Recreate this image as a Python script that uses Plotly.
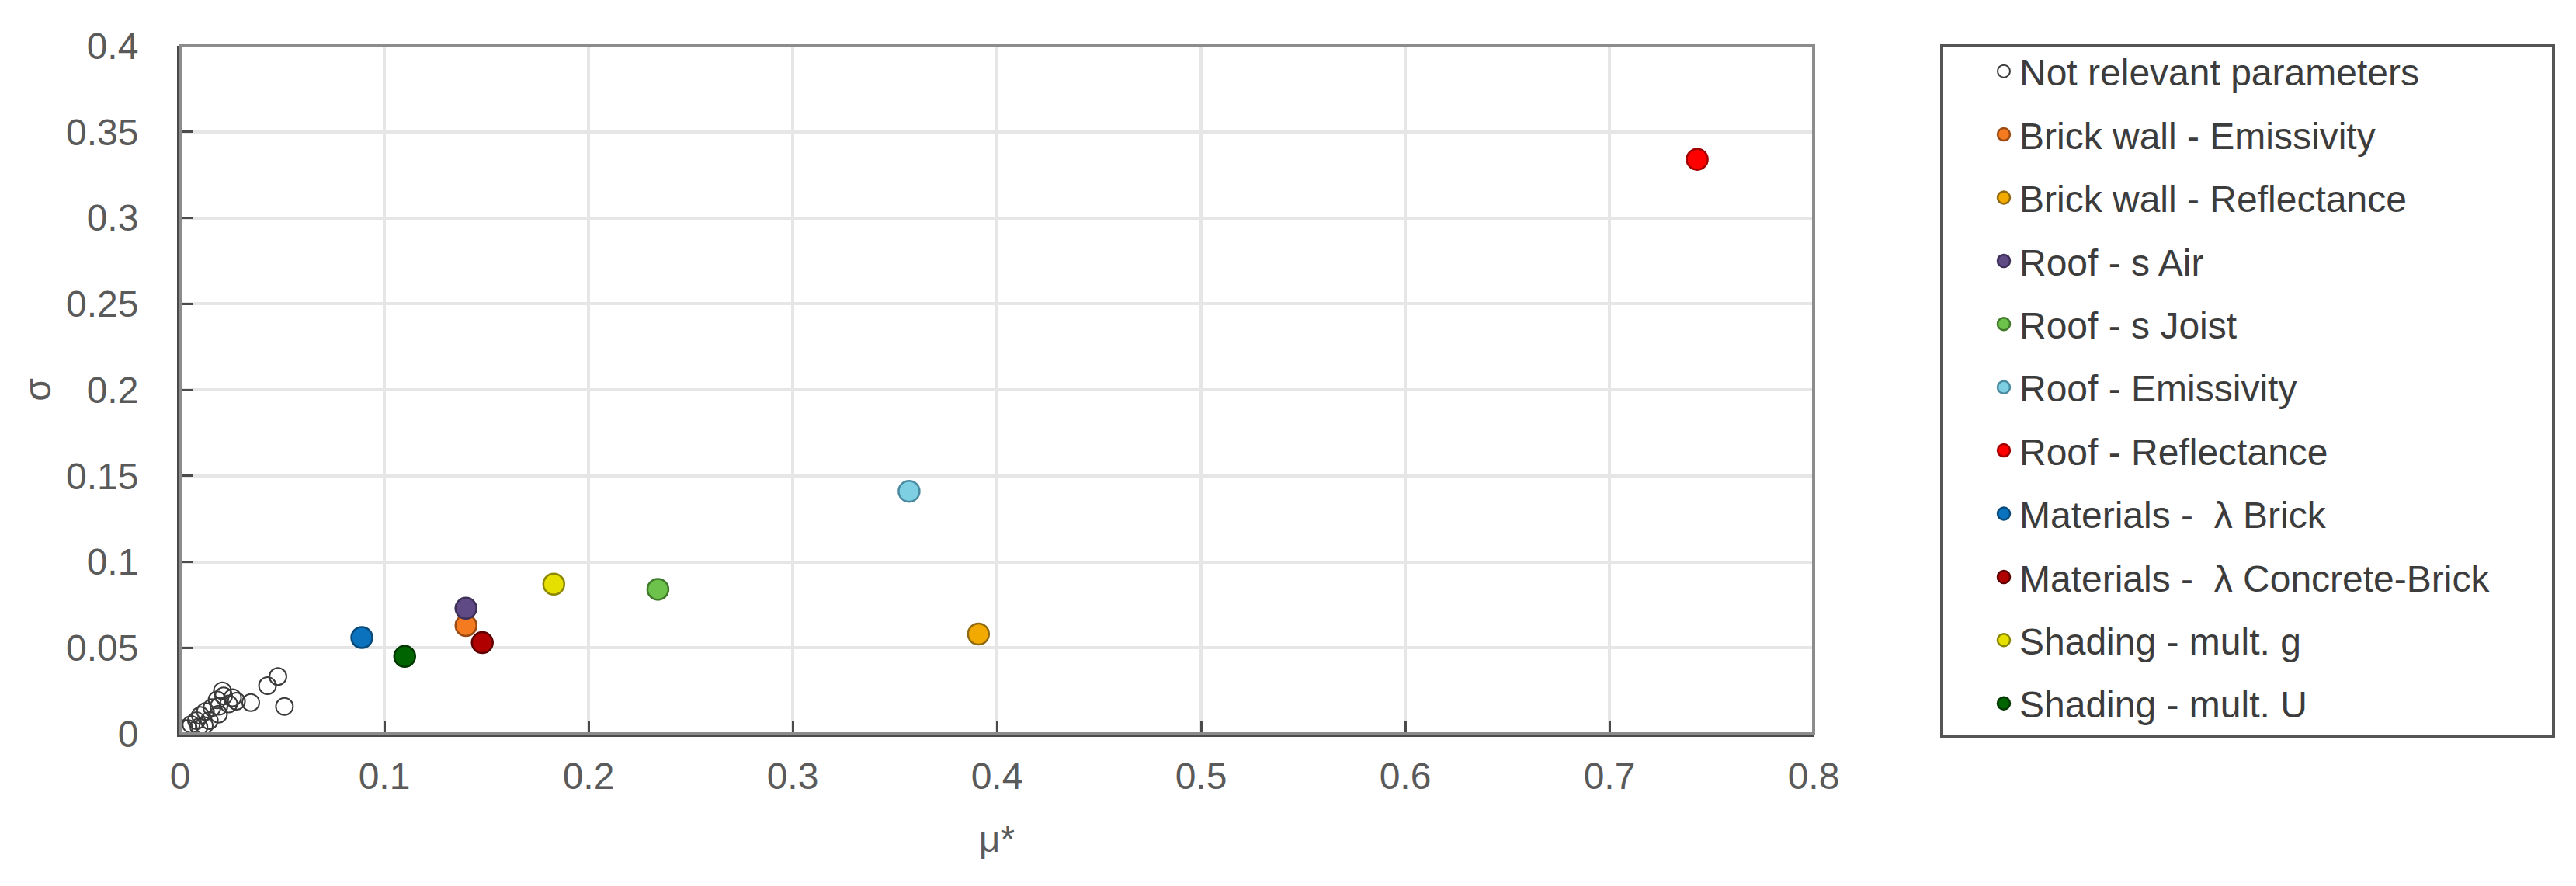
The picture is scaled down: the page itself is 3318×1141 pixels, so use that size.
import plotly.graph_objects as go

# ---- data ----
nr_mu = [0.0479, 0.0428, 0.0511, 0.0346, 0.0276, 0.0207, 0.0238, 0.0181, 0.0156,
         0.0124, 0.0099, 0.0080, 0.0054, 0.0143, 0.0118, 0.0040, 0.0213, 0.0190,
         0.0257, 0.0188, 0.0092, 0.0019]
nr_sigma = [0.0333, 0.0280, 0.0159, 0.0182, 0.0190, 0.0250, 0.0174, 0.0197, 0.0152,
            0.0130, 0.0107, 0.0077, 0.0054, 0.0077, 0.0047, 0.0030, 0.0220, 0.0160,
            0.0210, 0.0114, 0.0039, 0.0030]

param_names = ["Brick wall - Emissivity", "Brick wall - Reflectance", "Roof - s Air",
               "Roof - s Joist", "Roof - Emissivity", "Roof - Reflectance",
               "Materials - \u00a0\u03bb Brick", "Materials - \u00a0\u03bb Concrete-Brick",
               "Shading - mult. g", "Shading - mult. U"]
param_mu = [0.140, 0.391, 0.140, 0.234, 0.357, 0.743, 0.089, 0.148, 0.183, 0.110]
param_sigma = [0.063, 0.058, 0.073, 0.084, 0.141, 0.334, 0.056, 0.053, 0.087, 0.045]
param_colors = ["#f47b20", "#f2a900", "#5f4a86", "#6cc24a", "#7fcfe2", "#ff0000",
                "#0b72bd", "#b00000", "#e6e000", "#006400"]
param_edges = ["#9a4a12", "#8f6a10", "#3d2f58", "#3f7a2a", "#4a8aa0", "#a00000",
               "#084a7a", "#600000", "#8a8600", "#003800"]

x_ticks = [0, 0.1, 0.2, 0.3, 0.4, 0.5, 0.6, 0.7, 0.8]
y_ticks = [0, 0.05, 0.1, 0.15, 0.2, 0.25, 0.3, 0.35, 0.4]

FONT = "Liberation Sans, Arial, sans-serif"

fig = go.Figure()
fig.add_trace(go.Scatter(
    x=nr_mu, y=nr_sigma, mode="markers", name="Not relevant parameters",
    legendgroup="g0",
    marker=dict(symbol="circle-open", size=22, color="#3a3a3a", line=dict(width=2, color="#3a3a3a")),
))
for i, nm in enumerate(param_names):
    fig.add_trace(go.Scatter(
        x=[param_mu[i]], y=[param_sigma[i]], mode="markers", name=nm,
        legendgroup=f"g{i+1}",
        marker=dict(symbol="circle", size=27, color=param_colors[i],
                    line=dict(width=2.5, color=param_edges[i])),
    ))

W, H = 3318, 1141
L, R, T, B = 224, 2328, 51, 937
pw, ph = R - L, B - T

def px2x(px):
    return (px - L) / pw

def py2y(py):
    return (B - py) / ph

# outer frame (top/right lighter) and legend box
fig.add_shape(type="rect", xref="paper", yref="paper", x0=0, x1=1, y0=0, y1=1,
              line=dict(color="#8c8c8c", width=4), layer="above")
fig.add_shape(type="rect", xref="paper", yref="paper",
              x0=px2x(2493), x1=px2x(3281), y0=py2y(941), y1=py2y(51),
              line=dict(color="#555555", width=4))

axis_common = dict(
    showgrid=True, gridcolor="#e6e6e6", gridwidth=4,
    showline=True, linecolor="#4a4a4a", linewidth=4,
    ticks="inside", ticklen=16, tickwidth=3, tickcolor="#4a4a4a",
    tickfont=dict(family=FONT, size=48, color="#5a5a5a"),
    zeroline=False,
)

fig.update_layout(
    width=W, height=H,
    margin=dict(l=L, r=W - R, t=T, b=H - B),
    plot_bgcolor="white", paper_bgcolor="white",
    showlegend=True,
    legend=dict(
        x=px2x(2553), xanchor="left", y=py2y(46), yanchor="top",
        bgcolor="rgba(0,0,0,0)", borderwidth=0,
        font=dict(family=FONT, size=48, color="#3c3c3c"),
        tracegroupgap=16, itemwidth=30, maxheight=1100,
    ),
    xaxis=dict(range=[0, 0.8], tickvals=x_ticks, ticktext=[f"{v:g}" for v in x_ticks],
               ticklabelstandoff=9,
               title=dict(text="\u03bc*", font=dict(family=FONT, size=48, color="#5a5a5a"), standoff=40),
               **axis_common),
    yaxis=dict(range=[0, 0.4], tickvals=y_ticks, ticktext=[f"{v:g}" for v in y_ticks],
               ticklabelstandoff=40,
               title=dict(text="\u03c3", font=dict(family=FONT, size=48, color="#5a5a5a"), standoff=5),
               **axis_common),
)

fig.write_html("out.html")
